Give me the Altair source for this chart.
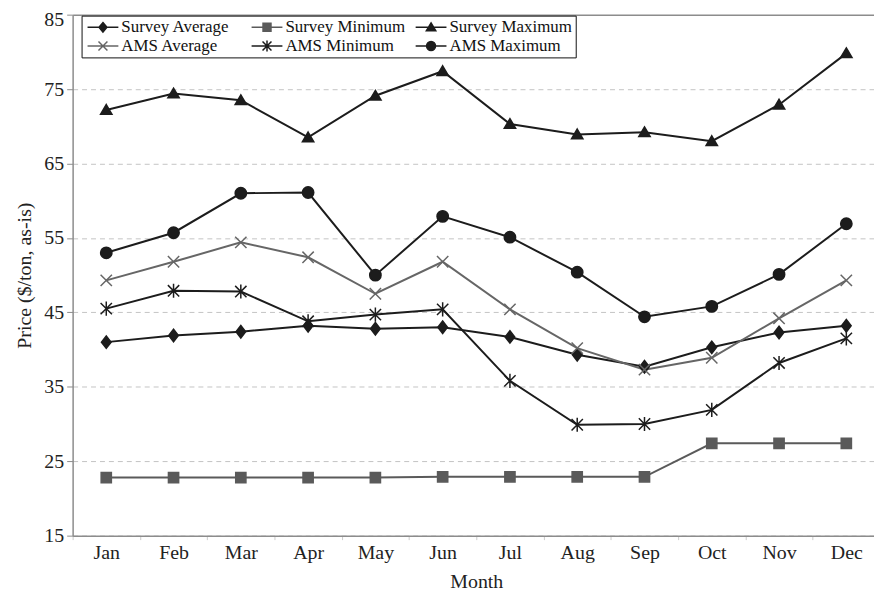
import altair as alt
import pandas as pd

months = ["Jan", "Feb", "Mar", "Apr", "May", "Jun", "Jul", "Aug", "Sep", "Oct", "Nov", "Dec"]
series_names = ["Survey Average", "Survey Minimum", "Survey Maximum",
                "AMS Average", "AMS Minimum", "AMS Maximum"]

survey_avg = [41.0, 41.9, 42.4, 43.2, 42.8, 43.0, 41.7, 39.3, 37.7, 40.3, 42.3, 43.2]
survey_min = [22.8, 22.8, 22.8, 22.8, 22.8, 22.9, 22.9, 22.9, 22.9, 27.4, 27.4, 27.4]
survey_max = [72.2, 74.4, 73.5, 68.5, 74.1, 77.4, 70.3, 68.9, 69.2, 68.0, 72.9, 79.8]
ams_avg = [49.3, 51.8, 54.4, 52.4, 47.5, 51.8, 45.4, 40.2, 37.3, 38.9, 44.2, 49.3]
ams_min = [45.5, 47.9, 47.8, 43.8, 44.7, 45.4, 35.8, 29.9, 30.0, 31.9, 38.2, 41.5]
ams_max = [53.0, 55.7, 61.0, 61.1, 50.0, 57.9, 55.1, 50.4, 44.4, 45.8, 50.1, 56.9]

y_ticks = [15, 25, 35, 45, 55, 65, 75, 85]

colors = ["#1c1c1c", "#5a5a5a", "#1c1c1c", "#666666", "#1c1c1c", "#1c1c1c"]

plot_shapes = [
    "M0,-1.1L0.85,0L0,1.1L-0.85,0Z",
    "M-0.9,-0.9L0.9,-0.9L0.9,0.9L-0.9,0.9Z",
    "M0,-0.95L1,0.75L-1,0.75Z",
    "M-1,-1L1,1M-1,1L1,-1",
    "M-1,-1L1,1M-1,1L1,-1M0,-1.25L0,1.25",
    "M1,0A1,1 0 1,1 -1,0A1,1 0 1,1 1,0Z",
]
LINE = "M-3.1,0L3.1,0"
legend_shapes = [
    LINE + "M0,-0.95L0.8,0L0,0.95L-0.8,0Z",
    LINE + "M-0.8,-0.8L0.8,-0.8L0.8,0.8L-0.8,0.8Z",
    LINE + "M0,-0.9L0.95,0.7L-0.95,0.7Z",
    LINE + "M-0.9,-0.9L0.9,0.9M-0.9,0.9L0.9,-0.9",
    LINE + "M-0.9,-0.9L0.9,0.9M-0.9,0.9L0.9,-0.9M0,-1.1L0,1.1",
    LINE + "M0.9,0A0.9,0.9 0 1,1 -0.9,0A0.9,0.9 0 1,1 0.9,0Z",
]

values = [survey_avg, survey_min, survey_max, ams_avg, ams_min, ams_max]
rows = []
for name, vals in zip(series_names, values):
    for m, v in zip(months, vals):
        rows.append({"series": name, "month": m, "price": v})
df = pd.DataFrame(rows)

FONT = "Liberation Serif"
AX_FS = 20

x_enc = alt.X(
    "month:N", sort=months, bandPosition=0.5,
    scale=alt.Scale(type="band", paddingInner=0, paddingOuter=0, range=[0, 812]),
    axis=alt.Axis(title="Month", tickBand="extent", labelAngle=0, tickSize=4,
                  tickColor="#cccccc", labelPadding=3, titlePadding=9,
                  labelFontSize=AX_FS, titleFontSize=AX_FS,
                  domainColor="#8c8c8c", domainWidth=1.5, grid=False),
)
y_enc = alt.Y(
    "price:Q",
    scale=alt.Scale(domain=[15, 85], nice=False, zero=False),
    axis=alt.Axis(
        title="Price ($/ton, as-is)", values=y_ticks, grid=True,
        gridDash={"condition": {"test": "datum.value == 85", "value": []}, "value": [5, 4]},
        gridColor={"condition": {"test": "datum.value == 85", "value": "#8c8c8c"}, "value": "#c4c4c4"},
        gridWidth={"condition": {"test": "datum.value == 85", "value": 1.5}, "value": 1},
        labelOffset={"condition": {"test": "datum.value == 85", "value": 5}, "value": 0},
        labelFontSize=AX_FS, titleFontSize=AX_FS,
        tickSize=6, tickColor="#8c8c8c", labelPadding=3, titlePadding=9,
        domainColor="#8c8c8c", domainWidth=1.5,
    ),
)

color_scale = alt.Scale(domain=series_names, range=colors)

base = alt.Chart(df)

lines = base.mark_line(strokeWidth=2).encode(
    x=x_enc, y=y_enc,
    color=alt.Color("series:N", scale=color_scale, legend=None),
)
points = base.mark_point(filled=True, strokeWidth=1.5, opacity=1).encode(
    x=x_enc, y=y_enc,
    shape=alt.Shape("series:N", scale=alt.Scale(domain=series_names, range=plot_shapes), legend=None),
    fill=alt.Fill("series:N", scale=color_scale, legend=None),
    stroke=alt.Stroke("series:N", scale=color_scale, legend=None),
    size=alt.value(130),
)
plot = alt.layer(lines, points)

leg = alt.Legend(
    title=None, orient="none", legendX=9, legendY=1, columns=3, direction="horizontal",
    gridAlign="all", columnPadding=4, rowPadding=1, symbolSize=100, symbolStrokeWidth=1.5,
    symbolOffset=10, labelOffset=10, labelFontSize=17, labelFont=FONT,
    labelColor="#111111", padding=3, strokeColor="#111111", fillColor="white",
)
legend_layer = base.transform_filter("false").mark_point(filled=True, strokeWidth=1.5, opacity=1).encode(
    x=x_enc, y=y_enc,
    shape=alt.Shape("series:N", scale=alt.Scale(domain=series_names, range=legend_shapes), legend=leg),
    fill=alt.Fill("series:N", scale=color_scale, legend=leg),
    stroke=alt.Stroke("series:N", scale=color_scale, legend=leg),
)

chart = alt.layer(plot, legend_layer).resolve_scale(
    shape="independent", fill="independent", stroke="independent"
).properties(
    width=806, height=524,
    autosize=alt.AutoSizeParams(type="none"),
    padding={"left": 65, "top": 5, "right": 0, "bottom": 55},
).configure_view(stroke=None).configure_axis(
    labelFont=FONT, titleFont=FONT,
    titleFontWeight="normal", labelColor="#222222", titleColor="#222222",
)

chart.save("out.html", embed_options={"renderer": "svg", "actions": False})
